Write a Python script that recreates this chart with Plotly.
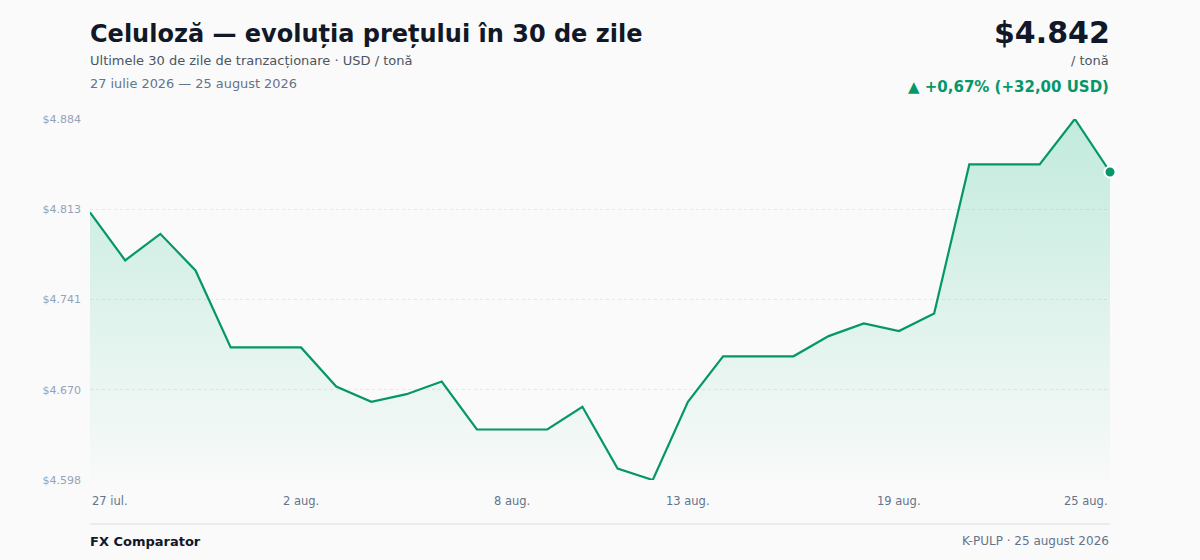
import plotly.graph_objects as go

# pret celuloza, USD / tona, 27 iul - 25 aug 2026 (zilnic)
days = list(range(30))
prices = [4810, 4772, 4793, 4764, 4703, 4703, 4703, 4672, 4660, 4666,
          4676, 4638, 4638, 4638, 4656, 4607, 4598, 4660, 4696, 4696,
          4696, 4712, 4722, 4716, 4730, 4848, 4848, 4848, 4884, 4842]
x_tick_idx = [0, 6, 12, 17, 23, 29]
x_tick_text = ["27 iul.", "2 aug.", "8 aug.", "13 aug.", "19 aug.", "25 aug."]

GREEN = "#059669"
DARK = "#111827"
GRAY = "#64748b"
LIGHT = "#94a3b8"
FONT = "DejaVu Sans"


def usd(v):
    n = int(v + 0.5)
    return "$%d.%03d" % (n // 1000, n % 1000)


def ro(v, d=2):
    return ("%.*f" % (d, v)).replace(".", ",")


lo, hi = min(prices), max(prices)
y_ticks = [lo + (hi - lo) * k / 4 for k in range(5)]
change = prices[-1] - prices[0]
pct = change / prices[0] * 100

# plot area in pixels -> paper coords
L, R, T, B = 90, 1110, 119, 480


def px(x):
    return (x - L) / (R - L)


def py(y):
    return (B - y) / (B - T)


fig = go.Figure()
fig.add_trace(go.Scatter(
    x=days, y=prices, mode="lines",
    line=dict(color=GREEN, width=2.2),
    fill="tozeroy",
    fillgradient=dict(type="vertical",
                      colorscale=[[0, "rgba(16,185,129,0.0)"], [1, "rgba(16,185,129,0.24)"]],
                      start=lo - 10, stop=hi),
    hoverinfo="skip", cliponaxis=False,
))
fig.add_trace(go.Scatter(
    x=[days[-1]], y=[prices[-1]], mode="markers",
    marker=dict(color=GREEN, size=11, line=dict(color="white", width=2)),
    hoverinfo="skip", cliponaxis=False,
))

ann = []


def text(x, y, s, size, color, anchor="left", bold=False):
    ann.append(dict(x=px(x), y=py(y), xref="paper", yref="paper",
                    text="<b>%s</b>" % s if bold else s, showarrow=False,
                    xanchor=anchor, yanchor="middle",
                    font=dict(family=FONT, size=size, color=color)))


text(88, 34, "Celuloză — evoluția prețului în 30 de zile", 24, DARK, bold=True)
text(88, 61, "Ultimele 30 de zile de tranzacționare · USD / tonă", 13, "#4b5563")
text(88, 83, "27 iulie 2026 — 25 august 2026", 12.9, GRAY)
text(1112, 32, usd(prices[-1]), 30, DARK, "right", bold=True)
text(1111, 61, "/ tonă", 13, "#4b5563", "right")
text(1111, 87, "▲ +%s%% (+%s USD)" % (ro(pct), ro(change)), 15, GREEN, "right", bold=True)
text(88, 541, "FX Comparator", 13, DARK, bold=True)
text(1111, 541, "K-PULP · 25 august 2026", 12, GRAY, "right")

# x labels: first left, last right, rest centred
for i, (d, lab) in enumerate(zip(x_tick_idx, x_tick_text)):
    anchor = "left" if i == 0 else ("right" if i == len(x_tick_idx) - 1 else "center")
    ann.append(dict(x=d, y=py(501), xref="x", yref="paper", text=lab,
                    showarrow=False, xanchor=anchor, yanchor="middle",
                    font=dict(family=FONT, size=11.5, color=GRAY)))

fig.update_layout(
    width=1200, height=560,
    margin=dict(l=L, r=1200 - R, t=T, b=560 - B),
    paper_bgcolor="#fafafa", plot_bgcolor="#fafafa",
    showlegend=False,
    annotations=ann,
    shapes=[dict(type="line", xref="paper", yref="paper",
                 x0=0, x1=1, y0=py(524), y1=py(524),
                 line=dict(color="#e5e7eb", width=1.5))],
    xaxis=dict(range=[0, 29], showgrid=False, zeroline=False,
               showticklabels=False, showline=False, fixedrange=True),
    yaxis=dict(range=[lo, hi], tickvals=y_ticks,
               ticktext=[usd(v) for v in y_ticks],
               showgrid=True, gridcolor="#e5e7eb", griddash="dot", gridwidth=1,
               zeroline=False, showline=False, ticks="",
               ticklabelstandoff=8,
               tickfont=dict(family=FONT, size=11, color=LIGHT)),
)

fig.write_html("out.html", config={"displayModeBar": False},
               post_script="document.body.style.margin='0';")
